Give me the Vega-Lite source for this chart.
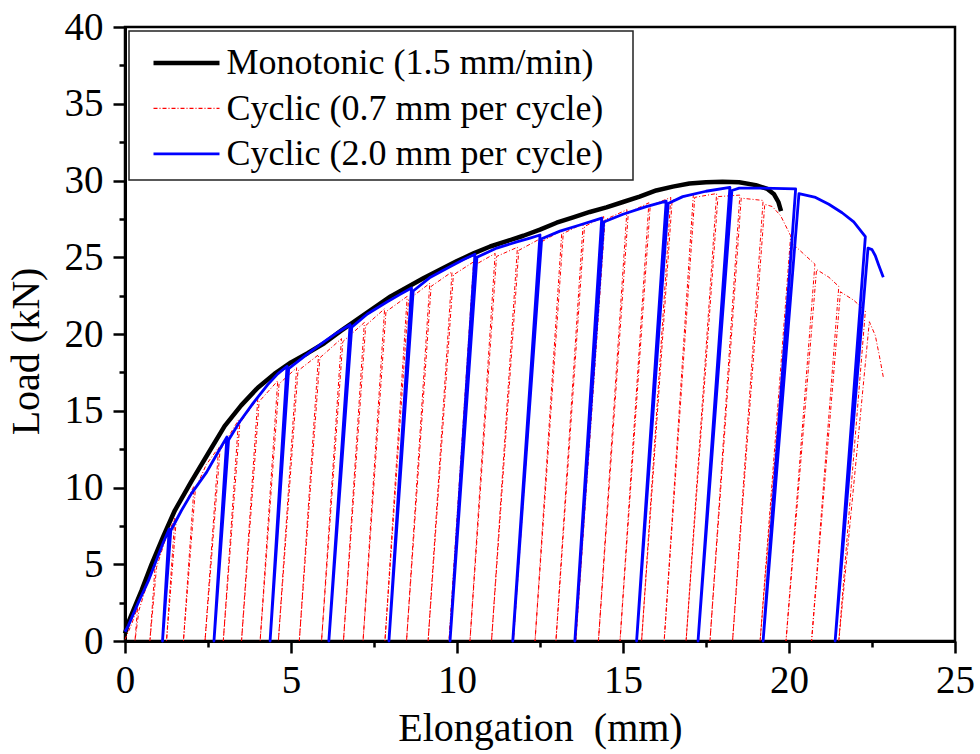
{
  "$schema": "https://vega.github.io/schema/vega-lite/v6.json",
  "width": 830,
  "height": 614,
  "autosize": {"type": "none"},
  "padding": {"left": 125, "top": 27, "right": 25, "bottom": 113},
  "background": "white",
  "config": {
    "view": {"stroke": "black", "strokeWidth": 2.5},
    "axis": {
      "grid": false,
      "domainColor": "black",
      "domainWidth": 3,
      "tickColor": "black",
      "tickWidth": 2.5,
      "labelFont": "Liberation Serif",
      "labelFontSize": 39,
      "labelColor": "black",
      "titleFont": "Liberation Serif",
      "titleFontSize": 40,
      "titleFontWeight": "normal",
      "titleColor": "black",
      "labelFlush": false,
      "labelOverlap": false
    },
    "legend": {
      "orient": "top-left",
      "offset": 4,
      "padding": 8,
      "strokeColor": "#222222",
      "strokeWidth": 1.5,
      "fillColor": "white",
      "labelFont": "Liberation Serif",
      "labelFontSize": 36,
      "labelColor": "black",
      "labelLimit": 1000,
      "symbolType": "M-2,0.36H2M26,0.36",
      "symbolSize": 1089,
      "symbolStrokeWidth": 1.5,
      "rowPadding": 3.5,
      "labelOffset": 22,
      "symbolOffset": 31.5
    }
  },
  "datasets": {
    "mono": [
      {"x":0,"y":0.5},{"x":0.1,"y":1.2},{"x":0.25,"y":2.0},{"x":0.5,"y":3.3},{"x":0.8,"y":5.0},{"x":1.15,"y":6.8},{"x":1.5,"y":8.5},{"x":2.0,"y":10.4},{"x":2.5,"y":12.2},{"x":3.0,"y":14.0},{"x":3.5,"y":15.35},{"x":4.0,"y":16.5},{"x":4.5,"y":17.4},{"x":5.0,"y":18.15},{"x":5.5,"y":18.75},{"x":6.0,"y":19.4},{"x":6.5,"y":20.2},{"x":7.0,"y":20.95},{"x":7.5,"y":21.7},{"x":8.0,"y":22.45},{"x":8.5,"y":23.05},{"x":9.0,"y":23.65},{"x":9.5,"y":24.2},{"x":10.0,"y":24.75},{"x":10.5,"y":25.25},{"x":11.0,"y":25.7},{"x":11.5,"y":26.05},{"x":12.0,"y":26.4},{"x":12.5,"y":26.8},{"x":13.0,"y":27.25},{"x":13.5,"y":27.6},{"x":14.0,"y":27.95},{"x":14.5,"y":28.25},{"x":15.0,"y":28.6},{"x":15.5,"y":28.95},{"x":16.0,"y":29.35},{"x":16.5,"y":29.6},{"x":17.0,"y":29.8},{"x":17.5,"y":29.88},{"x":18.0,"y":29.92},{"x":18.5,"y":29.88},{"x":19.0,"y":29.7},{"x":19.35,"y":29.45},{"x":19.55,"y":29.1},{"x":19.68,"y":28.6},{"x":19.76,"y":28.0}
    ],
    "c07": [
      {"x":0,"y":0.1},{"x":0.2,"y":1.1},{"x":0.38,"y":2.2},{"x":0.30,"y":0},{"x":0.42,"y":2.0},{"x":0.65,"y":3.6},{"x":0.91,"y":5.0},{"x":0.75,"y":0},{"x":0.95,"y":4.8},{"x":1.2,"y":6.5},{"x":1.5,"y":8.0},{"x":1.25,"y":0},{"x":1.54,"y":7.8},{"x":2.08,"y":10.1},{"x":1.76,"y":0},{"x":2.12,"y":9.9},{"x":2.45,"y":11.5},{"x":2.82,"y":12.6},{"x":2.41,"y":0},{"x":2.86,"y":12.4},{"x":3.42,"y":14.4},{"x":2.96,"y":0},{"x":3.46,"y":14.2},{"x":4.0,"y":15.8},{"x":3.51,"y":0},{"x":4.04,"y":15.6},{"x":4.6,"y":16.95},{"x":4.07,"y":0},{"x":4.64,"y":16.75},{"x":5.17,"y":17.8},{"x":4.62,"y":0},{"x":5.21,"y":17.6},{"x":5.83,"y":18.65},{"x":5.25,"y":0},{"x":5.87,"y":18.45},{"x":6.52,"y":19.7},{"x":5.92,"y":0},{"x":6.56,"y":19.5},{"x":7.21,"y":20.75},{"x":6.58,"y":0},{"x":7.25,"y":20.55},{"x":7.82,"y":21.65},{"x":7.17,"y":0},{"x":7.86,"y":21.45},{"x":8.5,"y":22.45},{"x":7.83,"y":0},{"x":8.54,"y":22.25},{"x":9.18,"y":23.3},{"x":8.48,"y":0},{"x":9.22,"y":23.1},{"x":9.85,"y":24.05},{"x":9.13,"y":0},{"x":9.89,"y":23.85},{"x":10.5,"y":24.7},{"x":9.76,"y":0},{"x":10.54,"y":24.5},{"x":11.15,"y":25.25},{"x":10.39,"y":0},{"x":11.19,"y":25.05},{"x":11.82,"y":25.65},{"x":11.04,"y":0},{"x":11.86,"y":25.45},{"x":12.5,"y":26.2},{"x":11.7,"y":0},{"x":12.54,"y":26.0},{"x":13.16,"y":26.75},{"x":12.35,"y":0},{"x":13.2,"y":26.55},{"x":13.8,"y":27.2},{"x":12.98,"y":0},{"x":13.84,"y":27.0},{"x":14.42,"y":27.65},{"x":13.58,"y":0},{"x":14.46,"y":27.45},{"x":15.12,"y":28.1},{"x":14.26,"y":0},{"x":15.16,"y":27.9},{"x":15.78,"y":28.55},{"x":14.91,"y":0},{"x":15.82,"y":28.35},{"x":16.44,"y":28.9},{"x":15.56,"y":0},{"x":16.48,"y":28.7},{"x":17.12,"y":29.1},{"x":16.24,"y":0},{"x":17.16,"y":28.9},{"x":17.82,"y":29.15},{"x":16.9,"y":0},{"x":17.86,"y":28.95},{"x":18.52,"y":29.05},{"x":17.62,"y":0},{"x":18.56,"y":28.85},{"x":19.22,"y":28.7},{"x":18.3,"y":0},{"x":19.27,"y":28.45},{"x":19.5,"y":28.3},{"x":19.75,"y":27.7},{"x":20.05,"y":26.4},{"x":19.13,"y":0},{"x":20.1,"y":25.9},{"x":20.45,"y":25.2},{"x":20.78,"y":24.55},{"x":19.91,"y":0},{"x":20.83,"y":24.2},{"x":21.2,"y":23.7},{"x":21.5,"y":23.1},{"x":20.68,"y":0},{"x":21.55,"y":22.75},{"x":21.95,"y":22.2},{"x":22.3,"y":21.5},{"x":21.5,"y":0},{"x":22.42,"y":20.8},{"x":22.6,"y":19.9},{"x":22.72,"y":18.6},{"x":22.84,"y":17.2}
    ],
    "c20": [
      {"x":0,"y":0.6},{"x":0.1,"y":1.0},{"x":0.4,"y":2.5},{"x":0.7,"y":3.9},{"x":0.95,"y":5.3},{"x":1.15,"y":6.4},{"x":1.33,"y":7.3},{"x":1.13,"y":0},{"x":1.38,"y":7.2},{"x":1.7,"y":8.5},{"x":2.0,"y":9.6},{"x":2.46,"y":11.0},{"x":2.8,"y":12.3},{"x":3.07,"y":13.3},{"x":2.68,"y":0},{"x":3.12,"y":13.1},{"x":3.46,"y":14.3},{"x":3.86,"y":15.5},{"x":4.3,"y":16.7},{"x":4.6,"y":17.4},{"x":4.88,"y":17.9},{"x":4.37,"y":0},{"x":4.93,"y":17.75},{"x":5.5,"y":18.7},{"x":6.0,"y":19.5},{"x":6.4,"y":20.1},{"x":6.78,"y":20.6},{"x":6.14,"y":0},{"x":6.83,"y":20.45},{"x":7.3,"y":21.3},{"x":7.9,"y":22.1},{"x":8.3,"y":22.6},{"x":8.63,"y":23.0},{"x":7.95,"y":0},{"x":8.68,"y":22.8},{"x":9.2,"y":23.7},{"x":9.8,"y":24.4},{"x":10.2,"y":24.85},{"x":10.54,"y":25.2},{"x":9.79,"y":0},{"x":10.6,"y":25.0},{"x":11.2,"y":25.6},{"x":11.8,"y":26.0},{"x":12.2,"y":26.25},{"x":12.5,"y":26.45},{"x":11.68,"y":0},{"x":12.55,"y":26.2},{"x":13.1,"y":26.7},{"x":13.7,"y":27.1},{"x":14.36,"y":27.55},{"x":13.55,"y":0},{"x":14.42,"y":27.3},{"x":15.0,"y":27.8},{"x":15.7,"y":28.3},{"x":16.3,"y":28.65},{"x":15.41,"y":0},{"x":16.36,"y":28.5},{"x":16.8,"y":28.95},{"x":17.5,"y":29.3},{"x":18.22,"y":29.55},{"x":17.26,"y":0},{"x":18.28,"y":29.35},{"x":18.5,"y":29.5},{"x":19.2,"y":29.5},{"x":20.2,"y":29.45},{"x":19.22,"y":0},{"x":20.3,"y":29.15},{"x":20.8,"y":28.9},{"x":21.2,"y":28.45},{"x":21.6,"y":27.9},{"x":21.95,"y":27.3},{"x":22.3,"y":26.35},{"x":21.39,"y":0},{"x":22.38,"y":25.6},{"x":22.5,"y":25.5},{"x":22.6,"y":25.1},{"x":22.7,"y":24.5},{"x":22.84,"y":23.7}
    ]
  },
  "encoding": {
    "x": {
      "field": "x",
      "type": "quantitative",
      "scale": {"domain": [0, 25], "nice": false, "zero": false},
      "axis": {
        "title": "Elongation\u00a0\u00a0(mm)",
        "values": [0, 2.5, 5, 7.5, 10, 12.5, 15, 17.5, 20, 22.5, 25],
        "labelExpr": "datum.value % 5 === 0 ? datum.label : ''",
        "tickSize": {"condition": {"test": "datum.value % 5 === 0", "value": 12}, "value": 6},
        "labelPadding": 8,
        "titlePadding": 8
      }
    },
    "y": {
      "field": "y",
      "type": "quantitative",
      "scale": {"domain": [0, 40], "nice": false, "zero": false},
      "axis": {
        "title": "Load (kN)",
        "values": [0, 2.5, 5, 7.5, 10, 12.5, 15, 17.5, 20, 22.5, 25, 27.5, 30, 32.5, 35, 37.5, 40],
        "labelExpr": "datum.value % 5 === 0 ? datum.label : ''",
        "tickSize": {"condition": {"test": "datum.value % 5 === 0", "value": 12}, "value": 6},
        "labelPadding": 10,
        "titlePadding": 18,
        "titleY": 324
      }
    },
    "order": {"value": null}
  },
  "layer": [
    {
      "data": {"name": "mono"},
      "mark": {"type": "line", "strokeWidth": 4.5, "strokeJoin": "round", "strokeCap": "butt"},
      "encoding": {
        "color": {
          "datum": "Monotonic (1.5 mm/min)",
          "type": "nominal",
          "scale": {
            "domain": ["Monotonic (1.5 mm/min)", "Cyclic (0.7 mm per cycle)", "Cyclic (2.0 mm per cycle)"],
            "range": ["#000000", "#ff0000", "#0000ff"]
          },
          "legend": {
            "title": null,
            "encode": {
              "symbols": {
                "update": {
                  "stroke": {"signal": "datum.value == 'Monotonic (1.5 mm/min)' ? '#000000' : datum.value == 'Cyclic (0.7 mm per cycle)' ? '#ff0000' : '#0000ff'"},
                  "strokeWidth": {"signal": "datum.value == 'Monotonic (1.5 mm/min)' ? 4.5 : datum.value == 'Cyclic (0.7 mm per cycle)' ? 1.2 : 2.8"},
                  "strokeDash": {"signal": "datum.value == 'Cyclic (0.7 mm per cycle)' ? [4, 2, 1, 2] : [1, 0]"}
                }
              },
              "labels": {
                "update": {"dy": {"value": 6}}
              }
            }
          }
        }
      }
    },
    {
      "data": {"name": "c07"},
      "mark": {"type": "line", "strokeWidth": 1, "strokeDash": [4, 2, 1, 2], "strokeJoin": "round"},
      "encoding": {
        "color": {"datum": "Cyclic (0.7 mm per cycle)", "type": "nominal"}
      }
    },
    {
      "data": {"name": "c20"},
      "mark": {"type": "line", "strokeWidth": 2.8, "strokeJoin": "round"},
      "encoding": {
        "color": {"datum": "Cyclic (2.0 mm per cycle)", "type": "nominal"}
      }
    }
  ]
}
